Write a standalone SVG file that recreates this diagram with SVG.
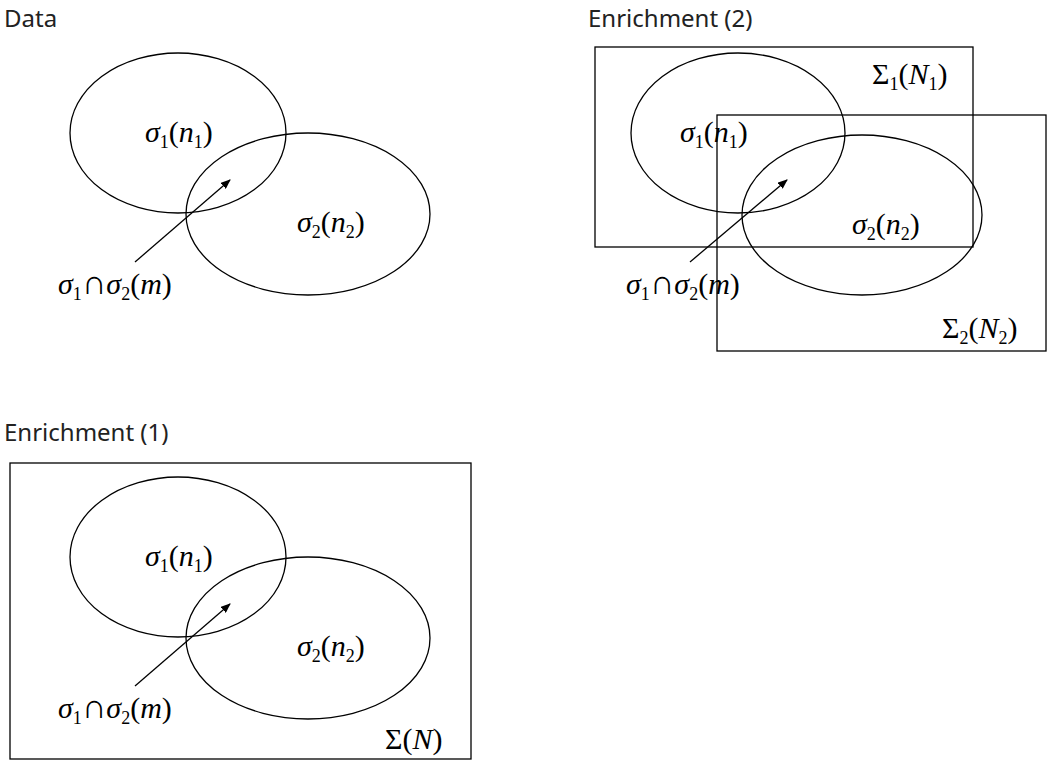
<svg xmlns="http://www.w3.org/2000/svg" width="1050" height="761" viewBox="0 0 1050 761">
<style>
.t{font-family:"Noto Sans","Liberation Sans",sans-serif;font-size:24px;fill:#222}
.m{font-family:"Liberation Serif","Times New Roman",serif;font-size:30px;font-style:italic;fill:#000}
.n{font-style:normal}
.s{font-size:18px}
.c{font-size:34px;font-style:normal}
.sh{fill:none;stroke:#000;stroke-width:1.3}
</style>
<defs><marker id="a" markerWidth="10" markerHeight="8" refX="9" refY="4" orient="auto" markerUnits="userSpaceOnUse"><path d="M0,0L10,4L0,8z" fill="#000"/></marker></defs>
<rect width="1050" height="761" fill="#fff"/>
<text class="t" x="4" y="27">Data</text>
<text class="t" x="588" y="27">Enrichment (2)</text>
<text class="t" x="4" y="441">Enrichment (1)</text>
<g id="data">
<ellipse class="sh" cx="178" cy="133" rx="108" ry="80"/>
<ellipse class="sh" cx="308" cy="214" rx="122" ry="81"/>
<text class="m" x="145" y="142">σ<tspan class="s n" dy="6">1</tspan><tspan class="n" dy="-6">(</tspan>n<tspan class="s n" dy="6">1</tspan><tspan class="n" dy="-6">)</tspan></text>
<text class="m" x="297" y="232">σ<tspan class="s n" dy="6">2</tspan><tspan class="n" dy="-6">(</tspan>n<tspan class="s n" dy="6">2</tspan><tspan class="n" dy="-6">)</tspan></text>
<text class="m" x="58" y="294">σ<tspan class="s n" dy="6">1</tspan><tspan class="c" dy="-6">∩</tspan>σ<tspan class="s n" dy="6">2</tspan><tspan class="n" dy="-6">(</tspan>m<tspan class="n">)</tspan></text>
</g>
<g id="enrich1">
<rect class="sh" x="10" y="463" width="461" height="296"/>
<ellipse class="sh" cx="178" cy="557" rx="108" ry="80"/>
<ellipse class="sh" cx="308" cy="638" rx="122" ry="81"/>
<text class="m" x="145" y="566">σ<tspan class="s n" dy="6">1</tspan><tspan class="n" dy="-6">(</tspan>n<tspan class="s n" dy="6">1</tspan><tspan class="n" dy="-6">)</tspan></text>
<text class="m" x="297" y="656">σ<tspan class="s n" dy="6">2</tspan><tspan class="n" dy="-6">(</tspan>n<tspan class="s n" dy="6">2</tspan><tspan class="n" dy="-6">)</tspan></text>
<text class="m" x="58" y="718">σ<tspan class="s n" dy="6">1</tspan><tspan class="c" dy="-6">∩</tspan>σ<tspan class="s n" dy="6">2</tspan><tspan class="n" dy="-6">(</tspan>m<tspan class="n">)</tspan></text>
<text class="m" x="385" y="749"><tspan class="n">Σ(</tspan>N<tspan class="n">)</tspan></text>
</g>
<g id="enrich2">
<rect class="sh" x="595" y="47" width="378" height="200"/>
<rect class="sh" x="717" y="115" width="329" height="236"/>
<ellipse class="sh" cx="738" cy="133" rx="107" ry="80"/>
<ellipse class="sh" cx="862" cy="215" rx="120" ry="80"/>
<text class="m" x="680" y="142">σ<tspan class="s n" dy="6">1</tspan><tspan class="n" dy="-6">(</tspan>n<tspan class="s n" dy="6">1</tspan><tspan class="n" dy="-6">)</tspan></text>
<text class="m" x="852" y="234">σ<tspan class="s n" dy="6">2</tspan><tspan class="n" dy="-6">(</tspan>n<tspan class="s n" dy="6">2</tspan><tspan class="n" dy="-6">)</tspan></text>
<text class="m" x="626" y="294">σ<tspan class="s n" dy="6">1</tspan><tspan class="c" dy="-6">∩</tspan>σ<tspan class="s n" dy="6">2</tspan><tspan class="n" dy="-6">(</tspan>m<tspan class="n">)</tspan></text>
<text class="m" x="872" y="84"><tspan class="n">Σ</tspan><tspan class="s n" dy="6">1</tspan><tspan class="n" dy="-6">(</tspan>N<tspan class="s n" dy="6">1</tspan><tspan class="n" dy="-6">)</tspan></text>
<text class="m" x="942" y="338"><tspan class="n">Σ</tspan><tspan class="s n" dy="6">2</tspan><tspan class="n" dy="-6">(</tspan>N<tspan class="s n" dy="6">2</tspan><tspan class="n" dy="-6">)</tspan></text>
</g>
<g id="connectors">
<line class="sh" x1="135" y1="262" x2="230" y2="180" marker-end="url(#a)"/>
<line class="sh" x1="135" y1="686" x2="230" y2="604" marker-end="url(#a)"/>
<line class="sh" x1="690" y1="262" x2="787" y2="180" marker-end="url(#a)"/>
</g>
</svg>
